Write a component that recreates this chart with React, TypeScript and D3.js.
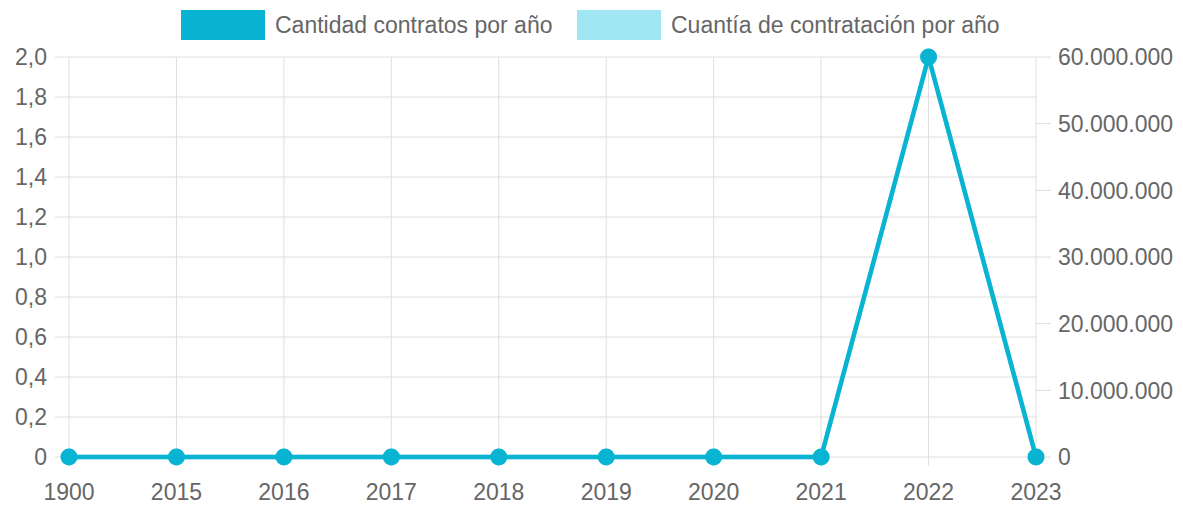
import React from 'react';
import * as d3 from 'd3';

const years = ['1900', '2015', '2016', '2017', '2018', '2019', '2020', '2021', '2022', '2023'];
const cantidad = [0, 0, 0, 0, 0, 0, 0, 0, 2, 0];
const cuantia = [0, 0, 0, 0, 0, 0, 0, 0, 60000000, 0];
const leftTicks = [0, 0.2, 0.4, 0.6, 0.8, 1.0, 1.2, 1.4, 1.6, 1.8, 2.0];
const rightTicks = [0, 10000000, 20000000, 30000000, 40000000, 50000000, 60000000];

const W = 1183;
const H = 507;
const DARK = '#08b4d2';
const LIGHT = '#a1e6f3';
const TEXT = '#666';
const GRID = '#dedede';
const FONT = '"Liberation Sans", Arial, sans-serif';
const FS = 23;

const es = d3.formatLocale({ decimal: ',', thousands: '.', grouping: [3], currency: ['', ''] });
const fmtLeft = (d: number) => (d === 0 ? '0' : es.format('.1f')(d));
const fmtRight = es.format(',.0f');

export default function App() {
  const x = d3.scalePoint<string>().domain(years).range([69, 1036]);
  const yL = d3.scaleLinear().domain([0, 2]).range([457, 57]);
  const yR = d3.scaleLinear().domain([0, 60000000]).range([457, 57]);

  const lineL = d3.line<number>().x((_, i) => x(years[i])!).y(d => yL(d));
  const lineR = d3.line<number>().x((_, i) => x(years[i])!).y(d => yR(d));

  const legend = [
    { label: 'Cantidad contratos por año', color: DARK, x: 181 },
    { label: 'Cuantía de contratación por año', color: LIGHT, x: 577 },
  ];

  return (
    <div style={{ position: 'absolute', left: 0, top: 0 }}>
      <svg width={W} height={H} style={{ display: 'block' }} fontFamily={FONT}>
        {/* horizontal grid + left ticks */}
        {leftTicks.map(t => (
          <g key={'l' + t}>
            <line x1={55} x2={1036} y1={yL(t)} y2={yL(t)} stroke={GRID} strokeWidth={1} />
            <text x={47} y={yL(t)} dy="0.36em" textAnchor="end" fontSize={FS} fill={TEXT}>
              {fmtLeft(t)}
            </text>
          </g>
        ))}
        {/* vertical grid + x labels */}
        {years.map(y => (
          <g key={'x' + y}>
            <line x1={x(y)} x2={x(y)} y1={57} y2={466} stroke={GRID} strokeWidth={1} />
            <text x={x(y)} y={492} dy="0.36em" textAnchor="middle" fontSize={FS} fill={TEXT}>
              {y}
            </text>
          </g>
        ))}
        {/* right axis ticks */}
        {rightTicks.map(t => (
          <g key={'r' + t}>
            <line x1={1036} x2={1051} y1={yR(t)} y2={yR(t)} stroke={GRID} strokeWidth={1} />
            <text x={1058} y={yR(t)} dy="0.36em" textAnchor="start" fontSize={FS} fill={TEXT}>
              {fmtRight(t)}
            </text>
          </g>
        ))}
        {/* series */}
        <path d={lineR(cuantia)!} fill="none" stroke={LIGHT} strokeWidth={4.5} />
        {cuantia.map((d, i) => (
          <circle key={'cr' + i} cx={x(years[i])} cy={yR(d)} r={8.5} fill={LIGHT} />
        ))}
        <path d={lineL(cantidad)!} fill="none" stroke={DARK} strokeWidth={4.5} strokeLinejoin="round" />
        {cantidad.map((d, i) => (
          <circle key={'cl' + i} cx={x(years[i])} cy={yL(d)} r={8.5} fill={DARK} />
        ))}
        {/* legend */}
        {legend.map(l => (
          <g key={l.label}>
            <rect x={l.x} y={10} width={84} height={30} fill={l.color} />
            <text x={l.x + 94} y={25} dy="0.36em" fontSize={FS} fill={TEXT}>
              {l.label}
            </text>
          </g>
        ))}
      </svg>
    </div>
  );
}
